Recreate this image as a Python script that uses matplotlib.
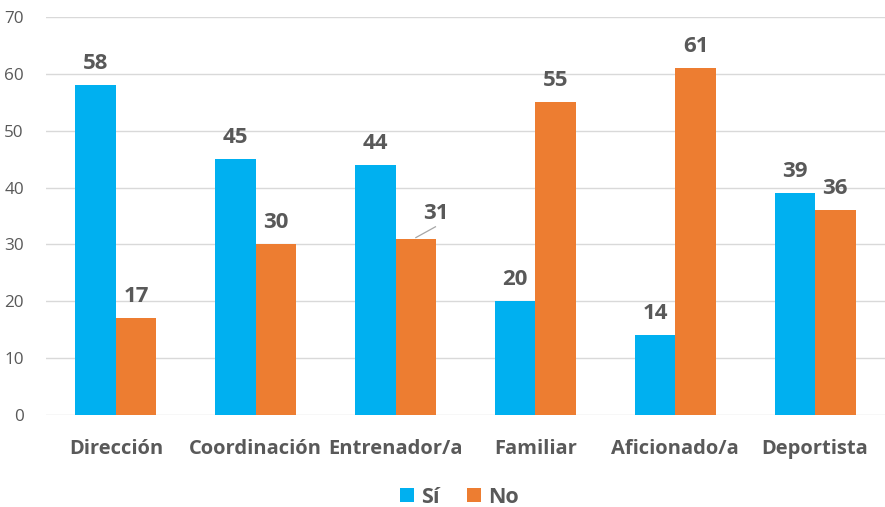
import numpy as np
import matplotlib.pyplot as plt

categories = ['Dirección', 'Coordinación', 'Entrenador/a', 'Familiar', 'Aficionado/a', 'Deportista']
si_values = [58, 45, 44, 20, 14, 39]
no_values = [17, 30, 31, 55, 61, 36]
series_names = ['Sí', 'No']

BLUE = '#00B0F0'
ORANGE = '#ED7D31'
TEXT = '#595959'
GRID = '#D9D9D9'

plt.rcParams['font.family'] = ['Open Sans', 'DejaVu Sans']

fig = plt.figure(figsize=(8.85, 5.07), dpi=100)
ax = fig.add_axes([0.052, 0.1815, 0.948, 0.785])

x = np.arange(len(categories))
width = 0.29

bars_si = ax.bar(x - width / 2, si_values, width, color=BLUE, label=series_names[0], zorder=3)
bars_no = ax.bar(x + width / 2, no_values, width, color=ORANGE, label=series_names[1], zorder=3)

# data labels
for bars in (bars_si, bars_no):
    for b in bars:
        h = b.get_height()
        cx = b.get_x() + b.get_width() / 2
        if bars is bars_no and h == 31:
            # this label was dragged off the bar, so it gets a leader line
            ax.plot([cx, cx + 0.14], [h + 0.2, h + 2.1], color='#A6A6A6', lw=0.9, zorder=4)
            ax.text(cx + 0.14, h + 2.6, str(h), ha='center', va='bottom',
                    fontsize=16, fontweight='bold', color=TEXT)
        else:
            ax.annotate(str(h), xy=(cx, h), xytext=(0, 8), textcoords='offset points',
                        ha='center', va='bottom', fontsize=16, fontweight='bold', color=TEXT)

ax.set_xlim(-0.5, len(categories) - 0.5)
ax.set_ylim(0, 70)
ax.set_yticks(range(0, 71, 10))
ax.set_xticks(x)
ax.set_xticklabels(categories, fontsize=14.5, fontweight='bold', color=TEXT)
ax.tick_params(axis='y', labelsize=12.3, labelcolor=TEXT, length=0, pad=16)
ax.tick_params(axis='x', length=0, pad=17)
ax.grid(axis='y', color=GRID, linewidth=1, zorder=0)
for s in ax.spines.values():
    s.set_visible(False)

fig.legend(loc='center', bbox_to_anchor=(0.519, 0.019), ncol=2, frameon=False,
           prop={'size': 15.5, 'weight': 'bold'}, labelcolor=TEXT,
           handlelength=0.65, handleheight=0.65, handletextpad=0.3, columnspacing=1.3)

fig.savefig('out.png', dpi=100)
